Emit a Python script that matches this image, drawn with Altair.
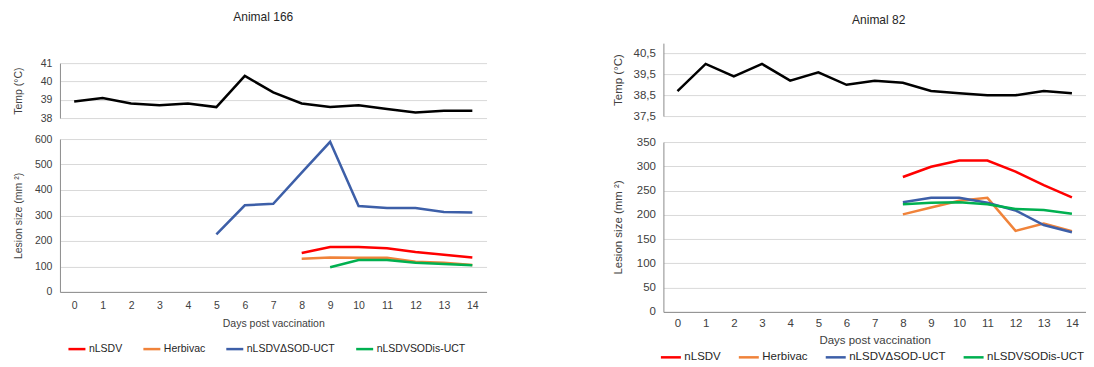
import altair as alt
import pandas as pd

FONT = "Liberation Sans"

days = list(range(15))
series_names = ["nLSDV", "Herbivac", "nLSDVΔSOD-UCT", "nLSDVSODis-UCT"]
series_colors = ["#FF0000", "#F0833A", "#3D5FA8", "#00B050"]

# Animal 166
temp_166 = [38.9, 39.1, 38.8, 38.7, 38.8, 38.6, 40.3, 39.4, 38.8, 38.6, 38.7, 38.5, 38.3, 38.4, 38.4]
nlsdv_166 = [None] * 8 + [153, 176, 176, 171, 157, 146, 135]
herbivac_166 = [None] * 8 + [130, 135, 134, 134, 118, 114, 106]
dsod_166 = [None] * 5 + [226, 340, 346, 468, 589, 337, 329, 329, 314, 312]
sodis_166 = [None] * 9 + [97, 125, 125, 114, 110, 105]

# Animal 82
temp_82 = [38.7, 40.0, 39.4, 40.0, 39.2, 39.6, 39.0, 39.2, 39.1, 38.7, 38.6, 38.5, 38.5, 38.7, 38.6]
nlsdv_82 = [None] * 8 + [278, 299, 312, 312, 289, 261, 236]
herbivac_82 = [None] * 8 + [201, 215, 229, 235, 167, 182, 166]
dsod_82 = [None] * 8 + [226, 235, 235, 225, 209, 179, 164]
sodis_82 = [None] * 8 + [222, 225, 226, 222, 212, 210, 202]

temp_ticks_166 = [38, 39, 40, 41]
temp_ticks_82 = [37.5, 38.5, 39.5, 40.5]
lesion_ticks_166 = [0, 100, 200, 300, 400, 500, 600]
lesion_ticks_82 = [0, 50, 100, 150, 200, 250, 300, 350]


def lesion_frame(all_series):
    rows = []
    for name, vals in zip(series_names, all_series):
        for d, v in zip(days, vals):
            if v is not None:
                rows.append({"day": d, "size": v, "series": name})
    return pd.DataFrame(rows)


def panel(title, temp, lesions, p):
    xscale = alt.Scale(domain=days)

    # invisible spacer that sets where the temperature panel starts
    spacer = alt.Chart(pd.DataFrame({"v": [0]})).mark_point(opacity=0, size=1).encode(
        x=alt.value(0), y=alt.value(p["head"])
    ).properties(width=p["w"], height=p["head"])

    df_t = pd.DataFrame({"day": days, "temp": temp})
    temp_chart = alt.Chart(df_t).mark_line(color="black", strokeWidth=2.5).encode(
        x=alt.X("day:O", scale=xscale, axis=None),
        y=alt.Y(
            "temp:Q",
            scale=alt.Scale(domain=p["temp_domain"], nice=False, zero=False),
            axis=alt.Axis(
                title="Temp (°C)",
                values=p["temp_ticks"],
                labelExpr=p["temp_label"],
                labelFontSize=p["fs"],
                titleFontSize=p["fs"],
                labelPadding=p["lpad"],
                titlePadding=p["tpad_temp"],
            ),
        ),
    ).properties(
        width=p["w"],
        height=p["h_temp"],
        title=alt.TitleParams(
            title, fontSize=12, fontWeight="normal", font=FONT, color="#262626",
            anchor="middle", frame="group", dx=p["title_dx"], offset=p["title_off"],
        ),
    )

    df_l = lesion_frame(lesions)
    lesion_chart = alt.Chart(df_l).mark_line(strokeWidth=2.5).encode(
        x=alt.X(
            "day:O",
            scale=xscale,
            axis=alt.Axis(
                title="Days post vaccination",
                labelAngle=0,
                labelFontSize=p["fs"],
                titleFontSize=p["fs"],
                labelPadding=p["xlpad"],
                titlePadding=p["xtpad"],
                grid=False,
            ),
        ),
        y=alt.Y(
            "size:Q",
            scale=alt.Scale(domain=[0, p["les_max"]], nice=False),
            axis=alt.Axis(
                title="Lesion size (mm ²)",
                values=p["les_ticks"],
                labelFontSize=p["fs"],
                titleFontSize=p["fs"],
                labelPadding=p["lpad"],
                titlePadding=p["tpad_les"],
            ),
        ),
        color=alt.Color(
            "series:N",
            sort=series_names,
            scale=alt.Scale(domain=series_names, range=series_colors),
            legend=alt.Legend(
                title=None,
                orient="none",
                legendX=p["leg_x"],
                legendY=p["leg_y"],
                direction="horizontal",
                columns=4,
                columnPadding=p["leg_cp"],
                symbolType="stroke",
                symbolSize=p["sym"],
                symbolStrokeWidth=2.5,
                labelFontSize=p["leg_fs"],
                labelFont=FONT,
                labelColor="#262626",
                labelOffset=2,
                labelLimit=0,
                padding=0,
            ),
        ),
    ).properties(width=p["w"], height=p["h_les"])

    return alt.vconcat(spacer, temp_chart, lesion_chart, spacing=p["vsp"], bounds="flush")


left_p = dict(
    w=427, head=26, h_temp=55, h_les=153, fs=10.5, lpad=8, tpad_temp=17, tpad_les=11,
    temp_domain=[38, 41], temp_ticks=temp_ticks_166, temp_label="format(datum.value, 'd')",
    les_max=600, les_ticks=lesion_ticks_166, xlpad=9, xtpad=7,
    title_dx=-10, title_off=34, leg_x=7, leg_y=323, leg_cp=15, sym=289, leg_fs=10.5, vsp=21,
)
right_p = dict(
    w=423, head=1, h_temp=73, h_les=170, fs=11.5, lpad=8, tpad_temp=10, tpad_les=13,
    temp_domain=[37.5, 41], temp_ticks=temp_ticks_82,
    temp_label="replace(format(datum.value, '.1f'), '.', ',')",
    les_max=350, les_ticks=lesion_ticks_82, xlpad=6, xtpad=5,
    title_dx=4, title_off=16, leg_x=-4, leg_y=330, leg_cp=12, sym=400, leg_fs=11.5, vsp=26,
)

left = panel("Animal 166", temp_166, [nlsdv_166, herbivac_166, dsod_166, sodis_166], left_p)
right = panel("Animal 82", temp_82, [nlsdv_82, herbivac_82, dsod_82, sodis_82], right_p)

chart = alt.hconcat(left, right, spacing=125, bounds="full").resolve_scale(
    color="independent"
).properties(
    padding={"left": 5, "top": 3, "right": 0, "bottom": 0}
).configure_view(stroke=None).configure_axis(
    domainColor="#8c8c8c",
    gridColor="#d9d9d9",
    labelColor="#404040",
    titleColor="#404040",
    labelFont=FONT,
    titleFont=FONT,
    titleFontWeight="normal",
    ticks=False,
).configure_title(font=FONT)

chart.save("out.html", embed_options={"renderer": "svg", "actions": False})
